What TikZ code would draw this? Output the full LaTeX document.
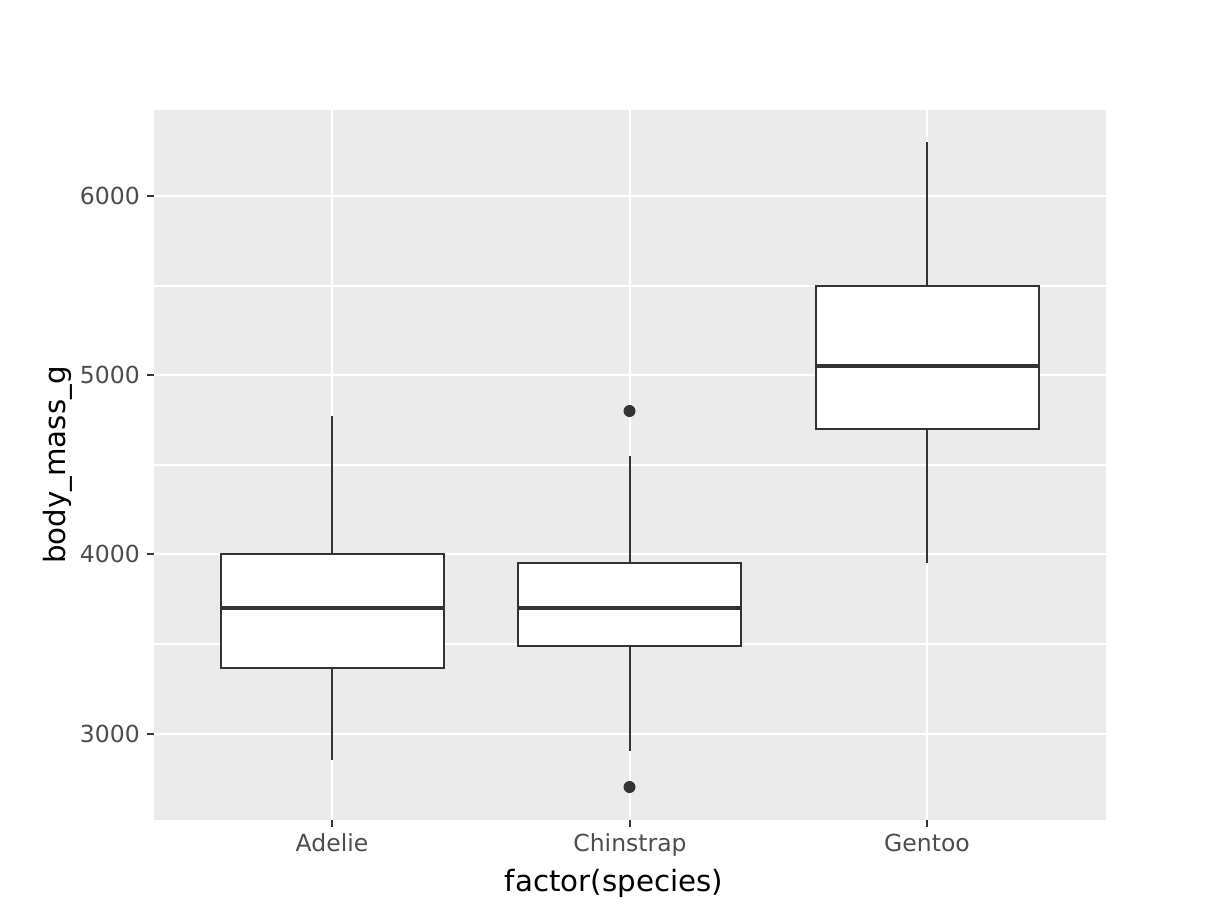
\documentclass[tikz,border=0pt]{standalone}
\usepackage{fontspec}
\setmainfont{DejaVu Sans}
\begin{document}
\begin{tikzpicture}[x=1pt,y=-1pt,
  major/.style={draw=white,line width=2.4pt},
  minor/.style={draw=white,line width=1.2pt},
  boxst/.style={draw=dark,fill=white,line width=2pt},
  whisk/.style={draw=dark,line width=2pt},
  med/.style={draw=dark,line width=4pt},
  tickst/.style={draw=dark,line width=2pt},
  ticklab/.style={text=ticktext,font=\fontsize{23.5}{28}\selectfont,inner sep=0pt},
  axtitle/.style={text=black,font=\fontsize{29.3}{34}\selectfont,inner sep=0pt},
  outl/.style={fill=dark,draw=none}]
\definecolor{panel}{HTML}{EBEBEB}
\definecolor{dark}{HTML}{333333}
\definecolor{ticktext}{HTML}{4D4D4D}
\useasboundingbox (0,0) rectangle (1228,921);
\fill[white] (0,0) rectangle (1228,921);
% panel
\fill[panel] (154,110) rectangle (1106,820);
% minor gridlines
\foreach \y in {286,465,644} \draw[minor] (154,\y) -- (1106,\y);
% major gridlines
\foreach \y in {196,375,554,734} \draw[major] (154,\y) -- (1106,\y);
\foreach \x in {332,630,927} \draw[major] (\x,110) -- (\x,820);
% Adelie
\coordinate (aw1) at (332,416); \coordinate (aw2) at (332,554);
\coordinate (aw3) at (332,668); \coordinate (aw4) at (332,760);
\draw[whisk] (aw1) -- (aw2);
\draw[whisk] (aw3) -- (aw4);
\draw[boxst] (221,554) rectangle (444,668);
\draw[med] (221,608) -- (444,608);
% Chinstrap
\coordinate (cw1) at (630,456); \coordinate (cw2) at (630,563);
\coordinate (cw3) at (630,646); \coordinate (cw4) at (630,751);
\draw[whisk] (cw1) -- (cw2);
\draw[whisk] (cw3) -- (cw4);
\draw[boxst] (518,563) rectangle (741,646);
\draw[med] (518,608) -- (741,608);
\node[outl,circle,minimum size=12pt,inner sep=0pt] (co1) at (629.5,411) {};
\node[outl,circle,minimum size=12pt,inner sep=0pt] (co2) at (629.5,787) {};
% Gentoo
\coordinate (gw1) at (927,142); \coordinate (gw2) at (927,286);
\coordinate (gw3) at (927,429); \coordinate (gw4) at (927,563);
\draw[whisk] (gw1) -- (gw2);
\draw[whisk] (gw3) -- (gw4);
\draw[boxst] (816,286) rectangle (1039,429);
\draw[med] (816,366) -- (1039,366);
% y ticks and labels
\foreach \y/\l in {196/6000,375/5000,554/4000,734/3000} {
  \draw[tickst] (147,\y) -- (154,\y);
  \node[ticklab,anchor=east] (yl\l) at (140,\y) {\l};
}
% x ticks and labels
\foreach \x/\l in {332/Adelie,630/Chinstrap,927/Gentoo} {
  \draw[tickst] (\x,820) -- (\x,827);
  \node[ticklab,anchor=base] (xl\l) at (\x,851) {\l};
}
% axis titles
\node[axtitle,anchor=base] (xt) at (614,891) {factor(species)};
\node[axtitle,anchor=base,rotate=90] (yt) at (65,465) {body\_mass\_g};
\end{tikzpicture}
\end{document}
